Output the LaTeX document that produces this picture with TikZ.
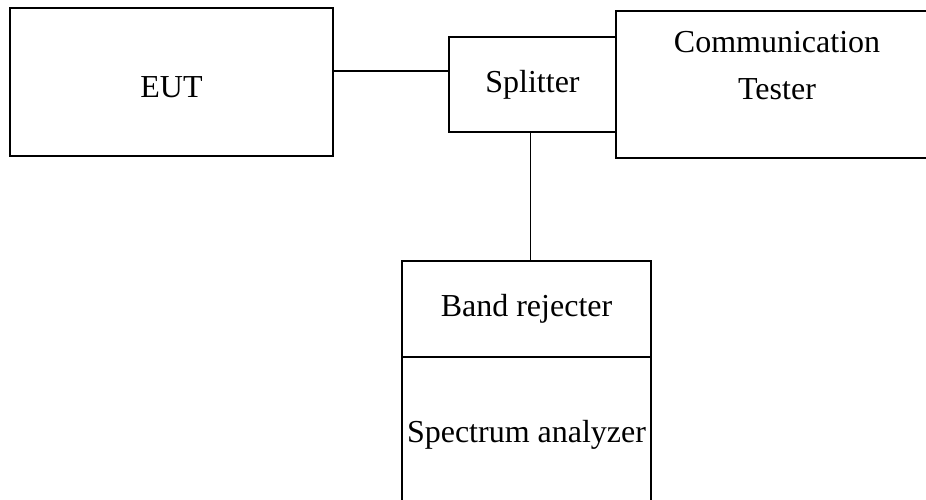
\documentclass[tikz,border=0pt]{standalone}
\usepackage{fontspec}
\setmainfont{Liberation Serif}
\begin{document}
\begin{tikzpicture}[x=1pt,y=-1pt,
  box/.style={draw=black, line width=1.8pt, rectangle, inner sep=0pt, align=center,
    font=\fontsize{32}{47}\selectfont},
  wire/.style={draw=black, line width=1.8pt}]
\useasboundingbox (0,0) rectangle (926,500);
\node[box, minimum width=323pt, minimum height=148pt, text height=32pt, text depth=0pt] (eut) at (171.5,82) {EUT};
\node[box, minimum width=167pt, minimum height=95pt] (spl) at (532.5,84.5) {Splitter};
\node[box, minimum width=322pt, minimum height=147pt] (tester) at (777,84.5) {Communication\\Tester\\[-8pt]};
\node[box, minimum width=249pt, minimum height=96pt] (band) at (526.5,309) {Band rejecter};
\node[box, minimum width=249pt, minimum height=156pt] (spec) at (526.5,435) {Spectrum analyzer};
\draw[wire] (eut.east |- 0,71) -- (spl.west |- 0,71);
\draw[wire] ([xshift=-2pt]spl.south) -- ([xshift=-2pt]spl.south |- band.north);
\end{tikzpicture}
\end{document}
